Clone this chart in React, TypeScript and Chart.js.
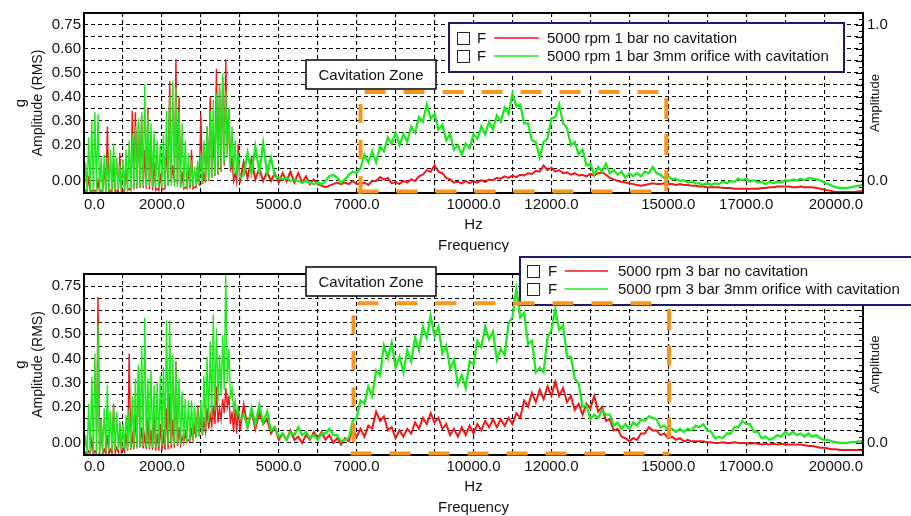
import React, { useEffect, useRef } from 'react';
import { Chart, registerables } from 'chart.js';

Chart.register(...registerables);

const FONT = '"Liberation Sans", Arial, Helvetica, sans-serif';
const RED = 'rgb(238,24,24)';
const GREEN = 'rgb(32,232,32)';
const ORANGE = '#f5961e';
const NAVY = '#1b1b6e';

// ---------- sampling of the spectra ----------
// 0–4000 Hz: alternating trough / harmonic peak every 40 Hz
const LOW_STEP_HZ = 40;
// 4100–20000 Hz: one value every 100 Hz
const HIGH_START_HZ = 4100;
const HIGH_STEP_HZ = 100;
const FREQ_MIN_HZ = 0;
const FREQ_MAX_HZ = 20000;
const FREQ_GRID_HZ = 1000;

// ---------- tick labels ----------
const xTickLabelValues = [0, 2000, 5000, 7000, 10000, 12000, 15000, 17000, 20000];
// amplitude (right axis) runs from -1/13 to 14/13, a grid line every 1/13
const AMP_GRID = 1 / 13;
const AMP_MIN = -1 / 13;
const AMP_MAX = 14 / 13;
const leftTickLabels = ['', '0.00', '', '', '0.20', '', '0.30', '', '0.40', '', '0.50', '', '0.60', '', '0.75', ''];
const rightTickLabels = ['', '0.0', '', '', '', '', '', '', '', '', '', '', '', '', '1.0', ''];

const ZONE_LABEL = 'Cavitation Zone';
const topSeriesNames = ['5000 rpm 1 bar no cavitation', '5000 rpm 1 bar 3mm orifice with cavitation'];
const bottomSeriesNames = ['5000 rpm 3 bar no cavitation', '5000 rpm 3 bar 3mm orifice with cavitation'];

// ================= TOP PANEL (1 bar) =================
const top1barNoCavLowTroughs = [
  -0.07, -0.07, -0.07, -0.07, -0.07, -0.07, -0.07, -0.07, -0.07, -0.07, -0.07, -0.07,
  -0.065, -0.065, -0.06, -0.06, -0.055, -0.05, -0.045, -0.045, -0.05, -0.055,
  -0.06, -0.06, -0.06, -0.06, -0.05, -0.03, -0.01, -0.01, -0.02, -0.04,
  -0.05, -0.05, -0.05, -0.05, -0.04, -0.03, -0.02, -0.01, 0.0, 0.02,
  0.03, 0.04, 0.06, 0.10, 0.17, 0.06, 0.0, -0.01, -0.01,
];
const top1barNoCavLowPeaks = [
  -0.06, 0.03, -0.06, -0.06, 0.0, -0.06, 0.10, 0.35, -0.06, 0.14,
  -0.06, 0.18, -0.06, 0.10, -0.05, 0.45, 0.44, 0.37, 0.42, 0.20,
  0.47, 0.30, 0.12, -0.05, 0.05, -0.05, 0.24, 0.64, 0.10, 0.78,
  0.54, 0.06, -0.04, 0.08, 0.20, -0.04, 0.10, 0.43, 0.05, 0.35,
  0.54, 0.30, 0.72, 0.60, 0.66, 0.78, 0.47, 0.15, 0.05, 0.24,
];
const top1barNoCavHigh = [
  0.12, 0.02, 0.14, 0.01, 0.08, 0.0, 0.06, 0.0, 0.05, -0.01,
  0.05, 0.0, 0.06, -0.01, 0.05, -0.01, 0.03, -0.02, 0.01, -0.02,
  -0.03, -0.04, -0.03, -0.02, -0.01, -0.02, -0.01, -0.02, 0.0, -0.02,
  -0.02, -0.01, -0.025, 0.0, 0.0, 0.025, 0.01, 0.02, -0.015, -0.005,
  -0.02, 0.0, -0.01, 0.01, 0.0, 0.03, 0.04, 0.07, 0.06, 0.10,
  0.06, 0.05, 0.02, 0.01, -0.01, -0.005, -0.015, 0.0, -0.015, 0.0,
  -0.01, 0.005, -0.005, 0.01, 0.005, 0.02, 0.015, 0.03, 0.02, 0.035,
  0.025, 0.04, 0.035, 0.05, 0.045, 0.065, 0.06, 0.10, 0.07, 0.085,
  0.06, 0.07, 0.05, 0.055, 0.04, 0.05, 0.035, 0.04, 0.03, 0.045,
  0.035, 0.05, 0.055, 0.04, 0.02, 0.01, 0.0, -0.005, -0.01, -0.015,
  -0.02, -0.025, -0.03, -0.025, -0.02, -0.015, -0.02, -0.02, -0.015, -0.02,
  -0.02, -0.025, -0.02, -0.025, -0.025, -0.03, -0.03, -0.035, -0.035, -0.04,
  -0.04, -0.04, -0.04, -0.045, -0.045, -0.045, -0.05, -0.05, -0.05, -0.05,
  -0.05, -0.05, -0.05, -0.045, -0.045, -0.04, -0.04, -0.035, -0.035, -0.035,
  -0.035, -0.04, -0.04, -0.035, -0.04, -0.04, -0.04, -0.045, -0.05, -0.055,
  -0.06, -0.065, -0.07, -0.07, -0.07, -0.07, -0.07, -0.07, -0.065, -0.065,
];
const top1barCavLowTroughs = [
  -0.07, -0.07, -0.07, -0.07, -0.07, -0.07, -0.07, -0.065, -0.065, -0.065,
  -0.06, -0.06, -0.06, -0.06, -0.06, -0.055, -0.05, -0.045, -0.04, -0.035,
  -0.03, -0.035, -0.04, -0.04, -0.04, -0.04, -0.035, -0.03, -0.03, -0.035,
  -0.04, -0.045, -0.045, -0.045, -0.04, -0.035, -0.03, -0.02, -0.01, 0.0,
  0.01, 0.02, 0.035, 0.05, 0.07, 0.12, 0.15, 0.08, 0.04, 0.03, 0.02,
];
const top1barCavLowPeaks = [
  0.12, 0.28, 0.38, 0.44, 0.43, 0.15, 0.17, 0.15, 0.20, 0.24,
  0.15, 0.10, 0.14, 0.20, 0.26, 0.30, 0.35, 0.40, 0.44, 0.62,
  0.43, 0.37, 0.32, 0.26, 0.24, 0.30, 0.45, 0.55, 0.64, 0.60,
  0.45, 0.37, 0.26, 0.18, 0.13, 0.09, 0.13, 0.18, 0.26, 0.35,
  0.45, 0.52, 0.56, 0.62, 0.69, 0.58, 0.47, 0.35, 0.26, 0.18,
];
const top1barCavHigh = [
  0.04, 0.18, 0.05, 0.22, 0.06, 0.24, 0.05, 0.15, 0.03, 0.02,
  0.01, 0.02, 0.0, 0.01, 0.0, -0.01, 0.0, -0.01, -0.02, -0.01,
  -0.02, 0.0, 0.03, 0.04, 0.02, -0.01, 0.01, 0.04, 0.06, 0.05,
  0.08, 0.17, 0.12, 0.19, 0.12, 0.22, 0.19, 0.28, 0.24, 0.31,
  0.23, 0.30, 0.25, 0.35, 0.31, 0.41, 0.38, 0.49, 0.40, 0.43,
  0.33, 0.36, 0.26, 0.30, 0.20, 0.23, 0.17, 0.24, 0.21, 0.30,
  0.27, 0.35, 0.30, 0.38, 0.33, 0.42, 0.38, 0.47, 0.43, 0.56,
  0.48, 0.49, 0.37, 0.37, 0.26, 0.25, 0.15, 0.25, 0.27, 0.40,
  0.41, 0.49, 0.37, 0.34, 0.23, 0.25, 0.17, 0.20, 0.10, 0.11,
  0.04, 0.09, 0.06, 0.11, 0.05, 0.07, 0.04, 0.06, 0.02, 0.05,
  0.03, 0.05, 0.03, 0.06, 0.05, 0.09, 0.05, 0.04, 0.02, 0.03,
  0.01, 0.015, 0.0, 0.005, -0.01, -0.005, -0.015, -0.015, -0.025, -0.015,
  -0.025, -0.015, -0.02, -0.005, -0.015, 0.0, -0.005, 0.015, 0.005, 0.015,
  -0.005, 0.005, -0.01, -0.005, -0.02, -0.005, -0.015, -0.005, -0.01, 0.005,
  0.0, 0.01, 0.005, 0.015, 0.005, 0.02, 0.015, 0.01, 0.005, -0.01,
  -0.02, -0.03, -0.04, -0.045, -0.045, -0.045, -0.04, -0.035, -0.03, -0.025,
];

// ================= BOTTOM PANEL (3 bar) =================
const bottom3barNoCavLowTroughs = [
  -0.075, -0.075, -0.075, -0.07, -0.07, -0.07, -0.07, -0.07, -0.07, -0.065,
  -0.065, -0.06, -0.06, -0.055, -0.05, -0.045, -0.04, -0.035, -0.03, -0.035,
  -0.04, -0.04, -0.045, -0.05, -0.05, -0.05, -0.045, -0.04, -0.035, -0.03,
  -0.02, -0.01, 0.0, 0.005, 0.01, 0.02, 0.03, 0.04, 0.05, 0.07,
  0.09, 0.11, 0.12, 0.13, 0.15, 0.19, 0.23, 0.12, 0.07, 0.06, 0.08,
];
const bottom3barNoCavLowPeaks = [
  -0.06, -0.05, 0.02, -0.05, 0.93, 0.15, -0.04, 0.05, -0.04, 0.25,
  -0.03, 0.12, -0.03, 0.06, 0.57, 0.05, 0.18, 0.48, 0.10, 0.05,
  0.15, 0.08, 0.20, 0.06, 0.12, 0.05, 0.22, 0.30, 0.15, 0.52,
  0.10, 0.04, 0.06, 0.02, 0.08, 0.10, 0.24, 0.20, 0.14, 0.22,
  0.18, 0.24, 0.36, 0.22, 0.28, 0.35, 0.30, 0.20, 0.22, 0.24,
];
const bottom3barNoCavHigh = [
  0.24, 0.10, 0.20, 0.09, 0.19, 0.12, 0.15, 0.06, 0.10, 0.02,
  0.06, 0.02, 0.08, 0.02, 0.04, 0.0, 0.05, 0.02, 0.07, 0.03,
  0.07, 0.02, 0.05, 0.0, 0.03, -0.01, 0.03, 0.01, 0.09, 0.04,
  0.09, 0.04, 0.11, 0.09, 0.20, 0.14, 0.17, 0.08, 0.10, 0.03,
  0.08, 0.04, 0.09, 0.06, 0.13, 0.09, 0.16, 0.12, 0.19, 0.13,
  0.16, 0.09, 0.12, 0.05, 0.09, 0.04, 0.10, 0.05, 0.11, 0.06,
  0.12, 0.08, 0.14, 0.10, 0.15, 0.10, 0.15, 0.11, 0.16, 0.12,
  0.19, 0.16, 0.27, 0.23, 0.32, 0.26, 0.34, 0.28, 0.36, 0.30,
  0.39, 0.30, 0.35, 0.26, 0.30, 0.21, 0.25, 0.18, 0.25, 0.22,
  0.30, 0.20, 0.23, 0.14, 0.15, 0.08, 0.09, 0.04, 0.03, 0.01,
  0.03, 0.02, 0.06, 0.06, 0.10, 0.08, 0.08, 0.05, 0.06, 0.03,
  0.04, 0.02, 0.03, 0.01, 0.02, 0.01, 0.01, 0.01, 0.01, 0.005,
  0.005, 0.0, 0.0, 0.005, 0.0, 0.0, 0.005, 0.0, 0.0, 0.0,
  -0.005, 0.0, -0.005, -0.01, -0.005, -0.01, -0.005, -0.01, -0.005, -0.01,
  -0.01, -0.01, -0.01, -0.01, -0.015, -0.02, -0.02, -0.025, -0.03, -0.03,
  -0.035, -0.04, -0.04, -0.045, -0.045, -0.045, -0.045, -0.045, -0.045, -0.045,
];
const bottom3barCavLowTroughs = [
  -0.075, -0.07, -0.07, -0.065, -0.065, -0.06, -0.06, -0.055, -0.055, -0.05,
  -0.05, -0.045, -0.045, -0.04, -0.04, -0.035, -0.03, -0.03, -0.025, -0.02,
  -0.025, -0.03, -0.03, -0.03, -0.025, -0.02, -0.015, -0.01, -0.01, -0.01,
  -0.01, -0.005, 0.0, 0.005, 0.01, 0.02, 0.03, 0.04, 0.06, 0.09,
  0.13, 0.17, 0.21, 0.26, 0.30, 0.34, 0.38, 0.28, 0.21, 0.18, 0.15,
];
const bottom3barCavLowPeaks = [
  0.05, 0.25, 0.42, 0.57, 0.76, 0.15, 0.22, 0.37, 0.20, 0.24,
  0.20, 0.14, 0.12, 0.18, 0.22, 0.30, 0.41, 0.50, 0.62, 0.80,
  0.41, 0.46, 0.37, 0.39, 0.43, 0.48, 0.78, 0.78, 0.56, 0.50,
  0.41, 0.33, 0.28, 0.27, 0.27, 0.24, 0.22, 0.27, 0.43, 0.55,
  0.65, 0.82, 0.73, 0.56, 0.69, 1.07, 0.60, 0.35, 0.27, 0.22,
];
const bottom3barCavHigh = [
  0.18, 0.10, 0.22, 0.12, 0.24, 0.13, 0.20, 0.08, 0.10, 0.04,
  0.06, 0.02, 0.07, 0.05, 0.10, 0.05, 0.07, 0.03, 0.05, 0.02,
  0.06, 0.06, 0.09, 0.05, 0.05, 0.01, 0.02, 0.03, 0.14, 0.16,
  0.27, 0.25, 0.36, 0.30, 0.46, 0.43, 0.62, 0.54, 0.64, 0.48,
  0.55, 0.45, 0.59, 0.52, 0.67, 0.59, 0.74, 0.67, 0.81, 0.68,
  0.74, 0.57, 0.62, 0.47, 0.53, 0.37, 0.43, 0.35, 0.52, 0.50,
  0.65, 0.61, 0.74, 0.66, 0.71, 0.53, 0.60, 0.56, 0.76, 0.80,
  0.98, 0.80, 0.83, 0.63, 0.65, 0.45, 0.48, 0.45, 0.67, 0.72,
  0.85, 0.72, 0.75, 0.55, 0.55, 0.41, 0.38, 0.23, 0.24, 0.15,
  0.18, 0.16, 0.21, 0.18, 0.18, 0.11, 0.13, 0.09, 0.12, 0.09,
  0.13, 0.11, 0.15, 0.14, 0.17, 0.16, 0.15, 0.10, 0.11, 0.08,
  0.09, 0.07, 0.09, 0.07, 0.09, 0.08, 0.11, 0.10, 0.12, 0.08,
  0.07, 0.03, 0.04, 0.03, 0.06, 0.06, 0.10, 0.10, 0.14, 0.12,
  0.12, 0.07, 0.07, 0.03, 0.04, 0.02, 0.03, 0.05, 0.04, 0.07,
  0.05, 0.07, 0.05, 0.06, 0.04, 0.06, 0.04, 0.05, 0.03, 0.02,
  0.02, 0.01, 0.005, 0.0, 0.0, 0.0, 0.005, 0.005, 0.01, 0.01,
];

// cavitation zone (dashed orange box) per panel: Hz and amplitude bounds
const topZoneHz = [7100, 14950];
const topZoneAmp = [-0.067, 0.57];
const bottomZoneHz = [6920, 15020];
const bottomZoneAmp = [-0.067, 0.89];

type Pt = { x: number; y: number };

function spectrum(troughs: number[], peaks: number[], high: number[]): Pt[] {
  const pts: Pt[] = [];
  troughs.forEach((t, k) => {
    pts.push({ x: 2 * k * LOW_STEP_HZ, y: t });
    if (k < peaks.length) pts.push({ x: (2 * k + 1) * LOW_STEP_HZ, y: peaks[k] });
  });
  high.forEach((v, i) => pts.push({ x: HIGH_START_HZ + i * HIGH_STEP_HZ, y: v }));
  return pts;
}

// layout of each panel (canvas coordinates)
const TOP_PANEL = {
  canvasTop: 0,
  height: 252,
  areaTop: 12,
  areaBottom: 193,
  names: topSeriesNames,
  noCav: () => spectrum(top1barNoCavLowTroughs, top1barNoCavLowPeaks, top1barNoCavHigh),
  cav: () => spectrum(top1barCavLowTroughs, top1barCavLowPeaks, top1barCavHigh),
  zoneHz: topZoneHz,
  zoneAmp: topZoneAmp,
  zoneLabel: { x: 306, y: 60, w: 130, h: 29 },
  legend: { x: 449, y: 23, w: 395, h: 49, rowY: [38, 56], boxX: 457, fX: 477, lineX0: 494, lineX1: 539, textX: 547 },
};
const BOTTOM_PANEL = {
  canvasTop: 252,
  height: 264,
  areaTop: 22,
  areaBottom: 203,
  names: bottomSeriesNames,
  noCav: () => spectrum(bottom3barNoCavLowTroughs, bottom3barNoCavLowPeaks, bottom3barNoCavHigh),
  cav: () => spectrum(bottom3barCavLowTroughs, bottom3barCavLowPeaks, bottom3barCavHigh),
  zoneHz: bottomZoneHz,
  zoneAmp: bottomZoneAmp,
  zoneLabel: { x: 306, y: 15, w: 130, h: 29 },
  legend: { x: 520, y: 5, w: 420, h: 48, rowY: [19, 37], boxX: 527, fX: 548, lineX0: 565, lineX1: 608, textX: 618 },
};

function line(ctx: CanvasRenderingContext2D, x0: number, y0: number, x1: number, y1: number) {
  ctx.beginPath();
  ctx.moveTo(x0, y0);
  ctx.lineTo(x1, y1);
  ctx.stroke();
}

function decorPlugin(panel: any) {
  return {
    id: 'decor',
    afterDraw(chart: any) {
      const { ctx, chartArea: a } = chart;
      const xs = chart.scales.x;
      const ys = chart.scales.y;
      ctx.save();
      ctx.setLineDash([]);

      // frame
      ctx.strokeStyle = '#000';
      ctx.lineWidth = 2;
      ctx.strokeRect(a.left, a.top, a.right - a.left, a.bottom - a.top);

      // inner tick marks on right axis
      ctx.lineWidth = 1;
      for (let k = 0; k <= 30; k++) {
        const py = Math.round(ys.getPixelForValue(AMP_MIN + (k * AMP_GRID) / 2)) + 0.5;
        const len = k % 2 === 0 ? 7 : 4;
        line(ctx, a.right - len, py, a.right, py);
      }

      // legend
      const L = panel.legend;
      ctx.fillStyle = '#fff';
      ctx.fillRect(L.x, L.y, L.w, L.h);
      ctx.strokeStyle = NAVY;
      ctx.lineWidth = 2;
      ctx.strokeRect(L.x, L.y, L.w, L.h);
      const colors = [RED, GREEN];
      ctx.font = `15px ${FONT}`;
      ctx.textBaseline = 'middle';
      ctx.textAlign = 'left';
      panel.names.forEach((name: string, i: number) => {
        const y = L.rowY[i];
        ctx.strokeStyle = '#222';
        ctx.lineWidth = 1;
        ctx.strokeRect(L.boxX + 0.5, y - 6 + 0.5, 12, 12);
        ctx.fillStyle = '#111';
        ctx.fillText('F', L.fX, y + 1);
        ctx.strokeStyle = colors[i];
        ctx.lineWidth = 1.5;
        line(ctx, L.lineX0, y, L.lineX1, y);
        ctx.fillStyle = '#111';
        ctx.fillText(name, L.textX, y + 1);
      });

      // cavitation zone label
      const b = panel.zoneLabel;
      ctx.fillStyle = '#fff';
      ctx.fillRect(b.x, b.y, b.w, b.h);
      ctx.strokeStyle = '#000';
      ctx.lineWidth = 1.5;
      ctx.strokeRect(b.x, b.y, b.w, b.h);
      ctx.fillStyle = '#111';
      ctx.textAlign = 'center';
      ctx.fillText(ZONE_LABEL, b.x + b.w / 2, b.y + b.h / 2 + 1);

      // dashed orange cavitation zone
      const xL = xs.getPixelForValue(panel.zoneHz[0]);
      const xR = xs.getPixelForValue(panel.zoneHz[1]);
      const yB = ys.getPixelForValue(panel.zoneAmp[0]);
      const yT = ys.getPixelForValue(panel.zoneAmp[1]);
      ctx.strokeStyle = ORANGE;
      ctx.lineWidth = 4;
      ctx.lineCap = 'butt';
      ctx.setLineDash([21, 18]);
      line(ctx, xL + 4, yT, xR - 6, yT);
      line(ctx, xL - 3, yB, xR, yB);
      ctx.setLineDash([19, 17]);
      line(ctx, xL, yT + 12, xL, yB + 2);
      ctx.setLineDash([21, 15]);
      line(ctx, xR, yT + 6, xR, yB + 1);
      ctx.setLineDash([]);

      // axis titles
      const cy = (a.top + a.bottom) / 2;
      ctx.fillStyle = '#111';
      ctx.textAlign = 'center';
      ctx.textBaseline = 'middle';
      const vText = (t: string, x: number, size: number) => {
        ctx.save();
        ctx.translate(x, cy);
        ctx.rotate(-Math.PI / 2);
        ctx.font = `${size}px ${FONT}`;
        ctx.fillText(t, 0, 0);
        ctx.restore();
      };
      vText('g', 21, 15);
      vText('Amplitude (RMS)', 38, 14);
      vText('Amplitude', 875, 13);
      ctx.font = `15px ${FONT}`;
      const cx = (a.left + a.right) / 2;
      ctx.fillText('Hz', cx, a.bottom + 32);
      ctx.fillText('Frequency', cx, a.bottom + 53);

      ctx.restore();
    },
  };
}

function ampTicks(scale: any) {
  const n = Math.round((AMP_MAX - AMP_MIN) / AMP_GRID);
  scale.ticks = Array.from({ length: n + 1 }, (_, k) => ({ value: AMP_MIN + k * AMP_GRID }));
}

// thinner strokes for the harmonic comb, heavier for the noisy broadband part
const segWidth = (thin: number, thick: number) => (c: any) => (c.p0.parsed.x >= HIGH_START_HZ - HIGH_STEP_HZ ? thick : thin);

function makeChart(canvas: HTMLCanvasElement, panel: any) {
  const W = 911;
  return new Chart(canvas, {
    type: 'line',
    data: {
      datasets: [
        {
          label: panel.names[1],
          data: panel.cav(),
          borderColor: GREEN,
          borderWidth: 1.4,
          segment: { borderWidth: segWidth(1.4, 2.3) },
          pointRadius: 0,
          fill: false,
          tension: 0,
          order: 0,
        },
        {
          label: panel.names[0],
          data: panel.noCav(),
          borderColor: RED,
          borderWidth: 1.4,
          segment: { borderWidth: segWidth(1.4, 2.0) },
          pointRadius: 0,
          fill: false,
          tension: 0,
          order: 1,
        },
      ],
    },
    options: {
      animation: false,
      responsive: false,
      devicePixelRatio: 1,
      events: [],
      layout: { padding: { top: panel.areaTop, left: 0, right: 0, bottom: 0 } },
      plugins: { legend: { display: false }, tooltip: { enabled: false }, title: { display: false } },
      scales: {
        x: {
          type: 'linear',
          min: FREQ_MIN_HZ,
          max: FREQ_MAX_HZ,
          afterBuildTicks: (scale: any) => {
            const n = Math.round((FREQ_MAX_HZ - FREQ_MIN_HZ) / FREQ_GRID_HZ);
            scale.ticks = Array.from({ length: n + 1 }, (_, k) => ({ value: FREQ_MIN_HZ + k * FREQ_GRID_HZ }));
          },
          afterFit: (scale: any) => {
            scale.height = panel.height - panel.areaBottom;
          },
          ticks: {
            autoSkip: false,
            maxRotation: 0,
            minRotation: 0,
            align: 'inner',
            padding: 3,
            color: '#111',
            font: { family: FONT, size: 15 },
            callback: (v: any) => (xTickLabelValues.includes(Number(v)) ? Number(v).toFixed(1) : ''),
          },
          grid: { color: '#000', lineWidth: 1.1, drawTicks: false },
          border: { display: false, dash: [4, 3] },
        },
        y: {
          type: 'linear',
          position: 'left',
          min: AMP_MIN,
          max: AMP_MAX,
          afterBuildTicks: ampTicks,
          afterFit: (scale: any) => {
            scale.width = 84;
          },
          ticks: {
            autoSkip: false,
            padding: 3,
            color: '#111',
            font: { family: FONT, size: 15 },
            callback: (_v: any, i: number) => leftTickLabels[i] ?? '',
          },
          grid: { color: '#000', lineWidth: 1.1, drawTicks: false },
          border: { display: false, dash: [4, 3] },
        },
        yR: {
          type: 'linear',
          position: 'right',
          min: AMP_MIN,
          max: AMP_MAX,
          afterBuildTicks: ampTicks,
          afterFit: (scale: any) => {
            scale.width = W - 863;
          },
          ticks: {
            autoSkip: false,
            padding: 4,
            color: '#111',
            font: { family: FONT, size: 15 },
            callback: (_v: any, i: number) => rightTickLabels[i] ?? '',
          },
          grid: { display: false, drawTicks: false },
          border: { display: false },
        },
      },
    } as any,
    plugins: [decorPlugin(panel)],
  });
}

export default function App() {
  const topRef = useRef<HTMLCanvasElement>(null);
  const botRef = useRef<HTMLCanvasElement>(null);

  useEffect(() => {
    Chart.defaults.font.family = FONT;
    const c1 = makeChart(topRef.current as HTMLCanvasElement, TOP_PANEL);
    const c2 = makeChart(botRef.current as HTMLCanvasElement, BOTTOM_PANEL);
    return () => {
      c1.destroy();
      c2.destroy();
    };
  }, []);

  return (
    <div style={{ position: 'absolute', left: 0, top: 0, width: 911, height: 516, background: '#fff', overflow: 'hidden' }}>
      <canvas
        ref={topRef}
        width={911}
        height={TOP_PANEL.height}
        style={{ position: 'absolute', left: 0, top: TOP_PANEL.canvasTop, width: 911, height: TOP_PANEL.height }}
      />
      <canvas
        ref={botRef}
        width={911}
        height={BOTTOM_PANEL.height}
        style={{ position: 'absolute', left: 0, top: BOTTOM_PANEL.canvasTop, width: 911, height: BOTTOM_PANEL.height }}
      />
    </div>
  );
}
